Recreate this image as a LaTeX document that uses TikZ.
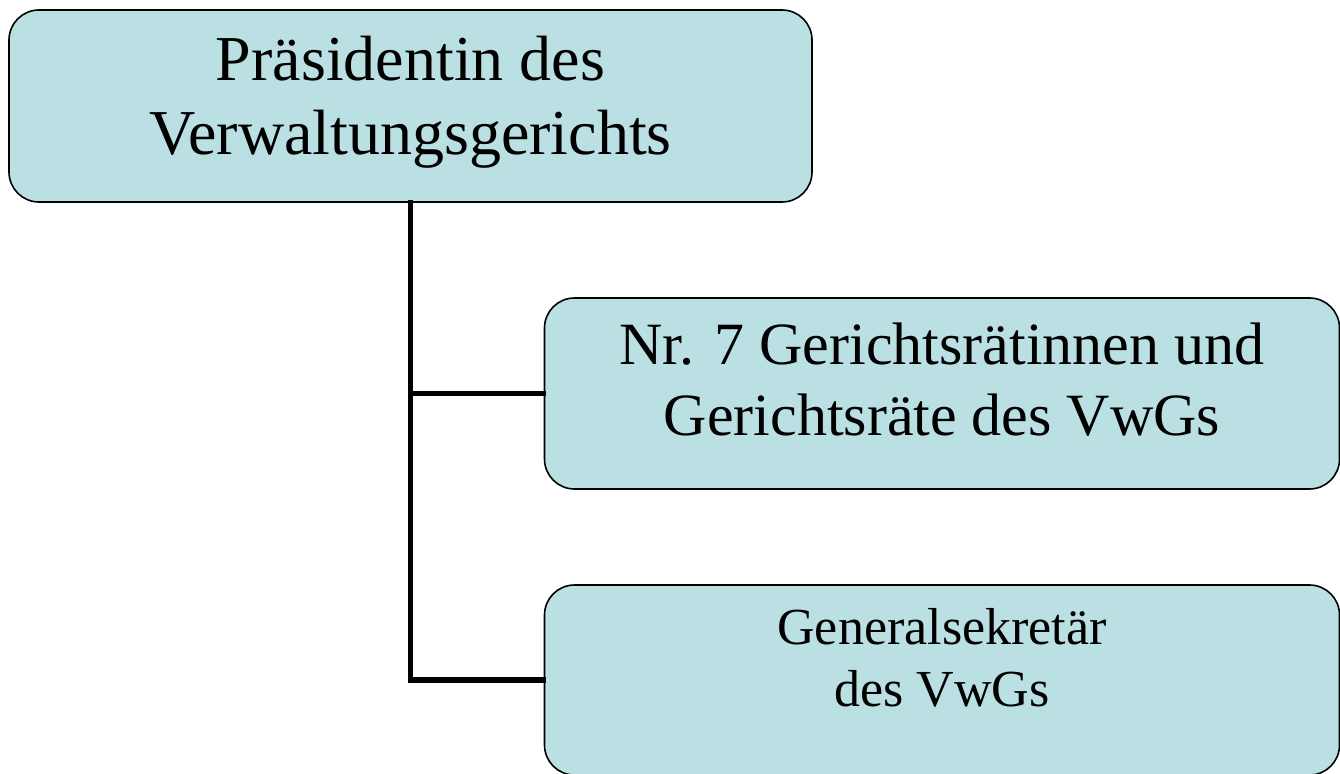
\documentclass[tikz,border=0pt]{standalone}
\usepackage{fontspec}
\setmainfont{Liberation Serif}
\usetikzlibrary{positioning}
\definecolor{boxfill}{RGB}{186,224,227}

\tikzset{
  orgbox/.style={draw=black, line width=1.6pt, fill=boxfill, rounded corners=30pt,
    inner sep=0pt},
  boxtext/.style={align=center, inner sep=0pt},
  link/.style={line width=5.5pt, line cap=rect}
}

\begin{document}
\begin{tikzpicture}[x=1pt, y=-1pt]
  \useasboundingbox (0,0) rectangle (1340,773);
  % boxes
  \node[orgbox, minimum width=803pt, minimum height=192pt] (pres) at (410.5,106) {};
  \node[orgbox, minimum width=795pt, minimum height=191pt] (richter) at (942,393.5) {};
  \node[orgbox, minimum width=795pt, minimum height=190pt] (gensek) at (942,680) {};
  % texts
  \node[boxtext, font=\fontsize{64}{74}\selectfont] (prestext)
    at ([yshift=4pt]pres.center) {Präsidentin des\\Verwaltungsgerichts};
  \node[boxtext, font=\fontsize{60}{71}\selectfont] (richtertext)
    at ([yshift=14pt]richter.center) {Nr. 7 Gerichtsrätinnen und\\Gerichtsräte des VwGs};
  \node[boxtext, font=\fontsize{52}{62}\selectfont] (gensektext)
    at ([yshift=22pt]gensek.center) {Generalsekretär\\des VwGs};
  % connectors
  \draw[link] (pres.south) |- (gensek.west);
  \draw[link] (pres.south |- richter.west) -- (richter.west);
\end{tikzpicture}
\end{document}
